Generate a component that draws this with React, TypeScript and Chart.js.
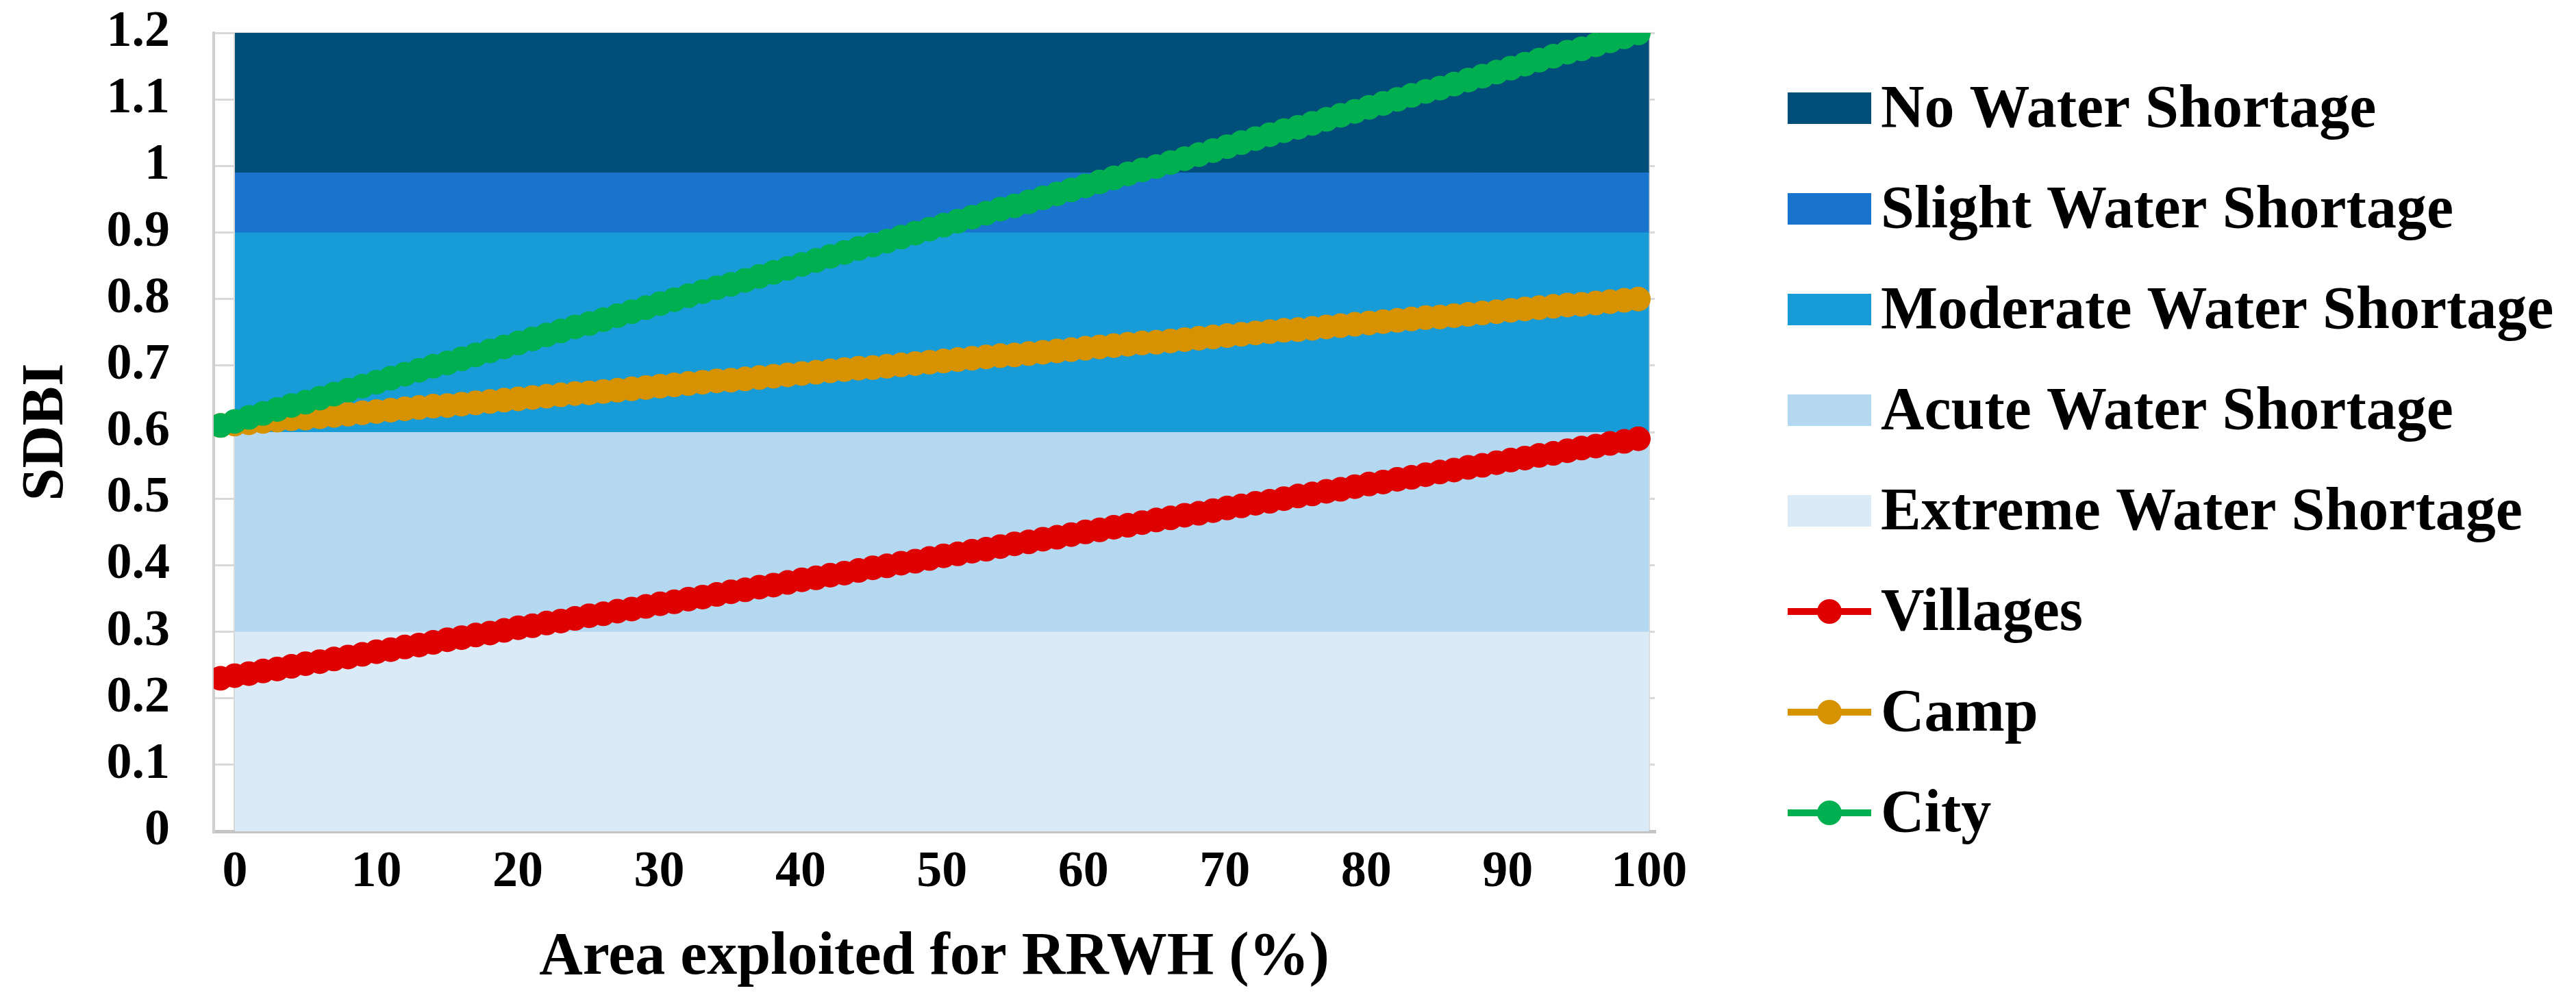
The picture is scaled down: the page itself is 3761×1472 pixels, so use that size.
import React, { useEffect, useRef } from 'react';
import Chart from 'chart.js/auto';
import type { Plugin } from 'chart.js';

// x: share of area used for rooftop rain water harvesting (%)
const areaPct = [
  0, 1, 2, 3, 4, 5, 6, 7, 8, 9, 10, 11, 12, 13, 14, 15, 16, 17, 18, 19,
  20, 21, 22, 23, 24, 25, 26, 27, 28, 29, 30, 31, 32, 33, 34, 35, 36, 37, 38, 39,
  40, 41, 42, 43, 44, 45, 46, 47, 48, 49, 50, 51, 52, 53, 54, 55, 56, 57, 58, 59,
  60, 61, 62, 63, 64, 65, 66, 67, 68, 69, 70, 71, 72, 73, 74, 75, 76, 77, 78, 79,
  80, 81, 82, 83, 84, 85, 86, 87, 88, 89, 90, 91, 92, 93, 94, 95, 96, 97, 98, 99, 100
];

// SDBI per series
const villages = [
  0.230, 0.234, 0.237, 0.241, 0.244, 0.248, 0.252, 0.255, 0.259, 0.262,
  0.266, 0.270, 0.273, 0.277, 0.280, 0.284, 0.288, 0.291, 0.295, 0.298,
  0.302, 0.306, 0.309, 0.313, 0.316, 0.320, 0.324, 0.327, 0.331, 0.334,
  0.338, 0.342, 0.345, 0.349, 0.352, 0.356, 0.360, 0.363, 0.367, 0.370,
  0.374, 0.378, 0.381, 0.385, 0.388, 0.392, 0.396, 0.399, 0.403, 0.406,
  0.410, 0.414, 0.417, 0.421, 0.424, 0.428, 0.432, 0.435, 0.439, 0.442,
  0.446, 0.450, 0.453, 0.457, 0.460, 0.464, 0.468, 0.471, 0.475, 0.478,
  0.482, 0.486, 0.489, 0.493, 0.496, 0.500, 0.504, 0.507, 0.511, 0.514,
  0.518, 0.522, 0.525, 0.529, 0.532, 0.536, 0.540, 0.543, 0.547, 0.550,
  0.554, 0.558, 0.561, 0.565, 0.568, 0.572, 0.576, 0.579, 0.583, 0.586, 0.590
];

const camp = [
  0.610, 0.612, 0.614, 0.616, 0.618, 0.620, 0.621, 0.623, 0.625, 0.627,
  0.629, 0.631, 0.633, 0.635, 0.637, 0.639, 0.640, 0.642, 0.644, 0.646,
  0.648, 0.650, 0.652, 0.654, 0.656, 0.658, 0.659, 0.661, 0.663, 0.665,
  0.667, 0.669, 0.671, 0.673, 0.675, 0.677, 0.678, 0.680, 0.682, 0.684,
  0.686, 0.688, 0.690, 0.692, 0.694, 0.696, 0.697, 0.699, 0.701, 0.703,
  0.705, 0.707, 0.709, 0.711, 0.713, 0.715, 0.716, 0.718, 0.720, 0.722,
  0.724, 0.726, 0.728, 0.730, 0.732, 0.734, 0.735, 0.737, 0.739, 0.741,
  0.743, 0.745, 0.747, 0.749, 0.751, 0.753, 0.754, 0.756, 0.758, 0.760,
  0.762, 0.764, 0.766, 0.768, 0.770, 0.772, 0.773, 0.775, 0.777, 0.779,
  0.781, 0.783, 0.785, 0.787, 0.789, 0.791, 0.792, 0.794, 0.796, 0.798, 0.800
];

const city = [
  0.610, 0.616, 0.622, 0.628, 0.634, 0.640, 0.645, 0.651, 0.657, 0.663,
  0.669, 0.675, 0.681, 0.687, 0.693, 0.699, 0.704, 0.710, 0.716, 0.722,
  0.728, 0.734, 0.740, 0.746, 0.752, 0.758, 0.763, 0.769, 0.775, 0.781,
  0.787, 0.793, 0.799, 0.805, 0.811, 0.817, 0.822, 0.828, 0.834, 0.840,
  0.846, 0.852, 0.858, 0.864, 0.870, 0.876, 0.881, 0.887, 0.893, 0.899,
  0.905, 0.911, 0.917, 0.923, 0.929, 0.935, 0.940, 0.946, 0.952, 0.958,
  0.964, 0.970, 0.976, 0.982, 0.988, 0.994, 0.999, 1.005, 1.011, 1.017,
  1.023, 1.029, 1.035, 1.041, 1.047, 1.053, 1.058, 1.064, 1.070, 1.076,
  1.082, 1.088, 1.094, 1.100, 1.106, 1.112, 1.117, 1.123, 1.129, 1.135,
  1.141, 1.147, 1.153, 1.159, 1.165, 1.171, 1.176, 1.182, 1.188, 1.194, 1.200
];

const seriesNames = ['Villages', 'Camp', 'City'];
const seriesColors = ['#DF0000', '#D69200', '#00B050'];

// background classes of water shortage
const bandNames = [
  'No Water Shortage',
  'Slight Water Shortage',
  'Moderate Water Shortage',
  'Acute Water Shortage',
  'Extreme Water Shortage'
];
const bandFrom = [0.99, 0.9, 0.6, 0.3, 0];
const bandTo = [1.2, 0.99, 0.9, 0.6, 0.3];
const bandColors = ['#004E7A', '#1874CC', '#189CD8', '#B4D8F0', '#DAEAF6'];
const bandSpan = [0, 100];

const xTicks = [0, 10, 20, 30, 40, 50, 60, 70, 80, 90, 100];
const yTicks = [0, 0.1, 0.2, 0.3, 0.4, 0.5, 0.6, 0.7, 0.8, 0.9, 1, 1.1, 1.2];

const FONT = "'Liberation Serif', 'Times New Roman', serif";

// Legende rechts neben dem Plot, selbst gezeichnet (die eingebaute wird zu schmal)
const sideLegend: Plugin<'line'> = {
  id: 'sideLegend',
  afterDraw(chart) {
    const { ctx, chartArea } = chart;
    const left = chartArea.right + 194;
    const firstRow = chartArea.top + 110;
    const step = 147;
    const symW = 122;

    ctx.save();
    ctx.font = `bold 88px ${FONT}`;
    ctx.textBaseline = 'middle';
    ctx.textAlign = 'left';

    const texts = [...bandNames, ...seriesNames];
    texts.forEach((text, i) => {
      const cy = firstRow + i * step;
      if (i < bandNames.length) {
        ctx.fillStyle = bandColors[i];
        ctx.fillRect(left, cy - 23, symW, 46);
      } else {
        const color = seriesColors[i - bandNames.length];
        ctx.fillStyle = color;
        ctx.fillRect(left, cy - 5, symW, 10);
        ctx.beginPath();
        ctx.arc(left + symW / 2, cy, 18, 0, Math.PI * 2);
        ctx.fill();
      }
      ctx.fillStyle = '#000';
      ctx.fillText(text, left + symW + 14, cy + 4);
    });
    ctx.restore();
  }
};

const App: React.FC = () => {
  const canvasRef = useRef<HTMLCanvasElement | null>(null);

  useEffect(() => {
    const ctx = canvasRef.current?.getContext('2d');
    if (!ctx) return;

    const bandSets = bandNames.map((name, i) => ({
      type: 'line' as const,
      label: name,
      data: bandSpan.map(x => ({ x, y: bandTo[i] })),
      xAxisID: 'x',
      yAxisID: 'y',
      borderColor: bandColors[i],
      borderWidth: 1,
      backgroundColor: bandColors[i],
      pointRadius: 0,
      fill: { value: bandFrom[i] },
      order: 10
    }));

    const lineData = [villages, camp, city];
    const lineSets = seriesNames.map((name, i) => ({
      type: 'line' as const,
      label: name,
      data: areaPct.map((x, j) => ({ x, y: lineData[i][j] })),
      xAxisID: 'x2',
      yAxisID: 'y',
      borderColor: seriesColors[i],
      backgroundColor: seriesColors[i],
      borderWidth: 12,
      pointRadius: 18,
      pointHoverRadius: 18,
      pointBorderWidth: 0,
      pointBackgroundColor: seriesColors[i],
      fill: false,
      tension: 0,
      order: 2 - i
    }));

    const chart = new Chart(ctx, {
      type: 'line',
      data: { datasets: [...bandSets, ...lineSets] as any },
      options: {
        animation: false,
        responsive: true,
        maintainAspectRatio: false,
        layout: { padding: { top: 48, left: 0, right: 1345, bottom: 0 } },
        plugins: {
          tooltip: { enabled: false },
          legend: { display: false }
        },
        scales: {
          x: {
            type: 'linear',
            min: -1.5,
            max: 100.4,
            afterBuildTicks: (s: any) => { s.ticks = xTicks.map(value => ({ value })); },
            afterFit: (s: any) => { s.height = 258; },
            grid: { color: '#D9D9D9', lineWidth: 3, drawTicks: false },
            border: { color: '#C4C4C4', width: 5 },
            ticks: {
              color: '#000',
              padding: 16,
              maxRotation: 0,
              font: { family: FONT, size: 74, weight: 'bold' }
            },
            title: {
              display: true,
              text: 'Area exploited for RRWH (%)',
              color: '#000',
              padding: { top: 0, bottom: 20 },
              font: { family: FONT, size: 88, weight: 'bold' }
            }
          },
          // eigene Achse für die Linien: die Punkte sitzen im Original etwa 1 % links der Bänder
          x2: {
            type: 'linear',
            display: false,
            min: -0.48,
            max: 101.16
          },
          y: {
            type: 'linear',
            min: 0,
            max: 1.2,
            afterBuildTicks: (s: any) => { s.ticks = yTicks.map(value => ({ value })); },
            afterFit: (s: any) => {
              s.width = 312;
              s.paddingTop = 0;
              s.paddingBottom = 0;
            },
            grid: { color: '#D9D9D9', lineWidth: 3, drawTicks: false },
            border: { color: '#CFCFCF', width: 4 },
            ticks: {
              color: '#000',
              padding: 64,
              font: { family: FONT, size: 74, weight: 'bold' },
              callback: (v: any) => String(v)
            },
            title: {
              display: true,
              text: 'SDBI',
              color: '#000',
              padding: { top: 17, bottom: 0 },
              font: { family: FONT, size: 86, weight: 'bold' }
            }
          }
        }
      },
      plugins: [sideLegend]
    });

    return () => chart.destroy();
  }, []);

  return (
    <div style={{ position: 'fixed', left: 0, top: 0, width: '100vw', height: '100vh', background: '#fff' }}>
      <canvas ref={canvasRef} />
    </div>
  );
};

export default App;
